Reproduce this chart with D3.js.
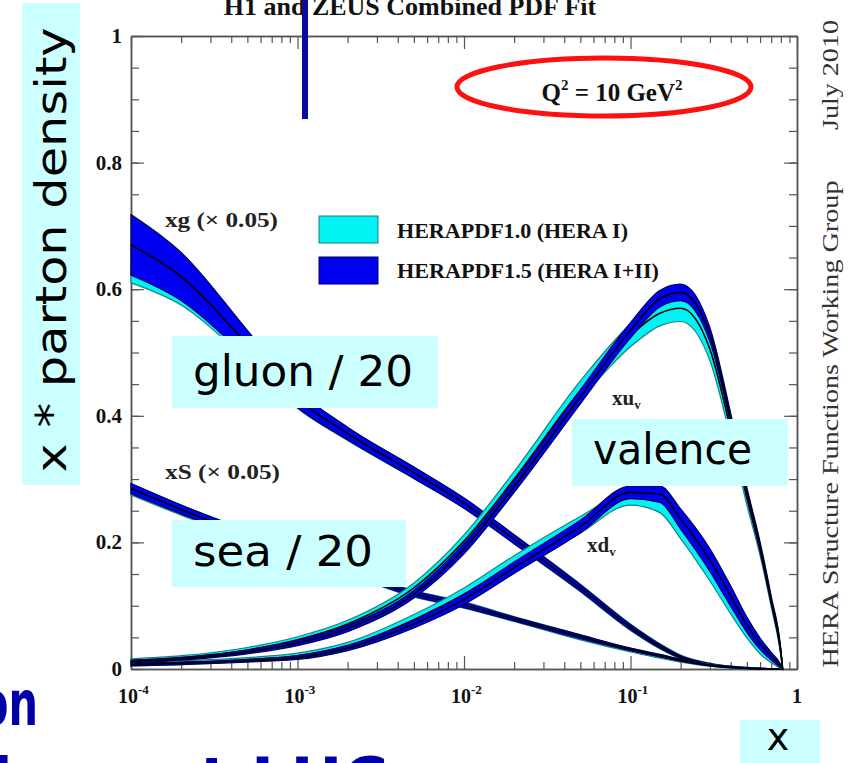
<!DOCTYPE html>
<html><head><meta charset="utf-8">
<script src="https://cdn.jsdelivr.net/npm/d3@7"></script>
<style>
html,body{margin:0;padding:0;background:#fff;overflow:hidden}
svg{display:block}
</style></head><body>
<svg id="chart" width="854" height="763"></svg>
<script>
// Momentum fractions at which the fitted densities are tabulated
const xGrid = [1e-4, 2e-4, 5e-4, 1e-3, 2e-3, 5e-3, 0.01, 0.02, 0.05, 0.1, 0.15, 0.2, 0.3, 0.4, 0.5, 0.6, 0.7, 0.8, 0.82];

// Gluon xg (scaled by 0.05)
const gluon15    = [0.670, 0.620, 0.513, 0.427, 0.372, 0.310, 0.262, 0.205, 0.128, 0.066, 0.036, 0.019, 0.007, 0.003, 0.0015, 0.0006, 0.0002, 0, 0];
const gluon15Err = [0.048, 0.038, 0.022, 0.014, 0.010, 0.009, 0.008, 0.007, 0.005, 0.004, 0.003, 0.002, 0.0015, 0.001, 0.001, 0.0005, 0.0003, 0.0002, 0];
const gluon10    = [0.640, 0.600, 0.505, 0.425, 0.371, 0.310, 0.262, 0.205, 0.128, 0.066, 0.036, 0.019, 0.007, 0.003, 0.0015, 0.0006, 0.0002, 0, 0];
const gluon10Err = [0.030, 0.025, 0.018, 0.013, 0.010, 0.009, 0.008, 0.007, 0.006, 0.005, 0.004, 0.003, 0.002, 0.0015, 0.001, 0.0006, 0.0004, 0.0002, 0];

// Sea xS (scaled by 0.05)
const sea15    = [0.285, 0.252, 0.212, 0.182, 0.154, 0.119, 0.101, 0.079, 0.051, 0.031, 0.021, 0.014, 0.006, 0.003, 0.0012, 0.0005, 0.0002, 0, 0];
const sea15Err = [0.008, 0.007, 0.006, 0.005, 0.004, 0.004, 0.004, 0.003, 0.003, 0.002, 0.002, 0.0015, 0.001, 0.001, 0.0008, 0.0005, 0.0003, 0.0002, 0];
const sea10    = [0.284, 0.251, 0.212, 0.182, 0.154, 0.119, 0.101, 0.079, 0.050, 0.030, 0.020, 0.013, 0.006, 0.003, 0.0012, 0.0005, 0.0002, 0, 0];
const sea10Err = [0.009, 0.008, 0.007, 0.006, 0.005, 0.005, 0.005, 0.004, 0.004, 0.003, 0.003, 0.002, 0.0015, 0.001, 0.001, 0.0006, 0.0004, 0.0002, 0];

// Valence u: xu_v
const xuv15    = [0.012, 0.016, 0.027, 0.041, 0.064, 0.118, 0.190, 0.288, 0.430, 0.535, 0.585, 0.595, 0.528, 0.395, 0.280, 0.195, 0.110, 0.028, 0];
const xuv15Err = [0.002, 0.002, 0.003, 0.004, 0.005, 0.006, 0.008, 0.009, 0.011, 0.012, 0.013, 0.013, 0.011, 0.009, 0.007, 0.006, 0.005, 0.003, 0];
const xuv10    = [0.013, 0.018, 0.030, 0.046, 0.071, 0.128, 0.202, 0.300, 0.440, 0.527, 0.562, 0.570, 0.505, 0.378, 0.270, 0.187, 0.104, 0.025, 0];
const xuv10Err = [0.003, 0.003, 0.004, 0.005, 0.006, 0.008, 0.010, 0.012, 0.015, 0.018, 0.020, 0.021, 0.018, 0.014, 0.011, 0.008, 0.006, 0.004, 0];

// Valence d: xd_v
const xdv15    = [0.007, 0.009, 0.013, 0.018, 0.033, 0.071, 0.110, 0.160, 0.225, 0.279, 0.276, 0.237, 0.172, 0.115, 0.070, 0.040, 0.020, 0.004, 0];
const xdv15Err = [0.002, 0.002, 0.002, 0.003, 0.004, 0.006, 0.008, 0.009, 0.010, 0.010, 0.013, 0.016, 0.018, 0.016, 0.012, 0.009, 0.006, 0.002, 0];
const xdv10    = [0.008, 0.010, 0.015, 0.021, 0.037, 0.078, 0.118, 0.167, 0.228, 0.270, 0.265, 0.228, 0.163, 0.108, 0.065, 0.036, 0.018, 0.004, 0];
const xdv10Err = [0.003, 0.003, 0.003, 0.004, 0.005, 0.008, 0.010, 0.012, 0.013, 0.011, 0.018, 0.022, 0.024, 0.021, 0.016, 0.012, 0.008, 0.003, 0];

// Axis ticks and labels
const yMajor = [0, 0.2, 0.4, 0.6, 0.8, 1];
const yTickLabels = ["0", "0.2", "0.4", "0.6", "0.8", "1"];
const yMinor = d3.range(0, 1.0001, 0.05);
const xMajor = [1e-4, 1e-3, 1e-2, 1e-1, 1];
const xTickExps = ["-4", "-3", "-2", "-1", ""];
const xMinor = [];
[1e-4, 1e-3, 1e-2, 1e-1].forEach(d => { for (let k = 2; k <= 9; k++) xMinor.push(d * k); });

const legendLabels = ["HERAPDF1.0 (HERA I)", "HERAPDF1.5 (HERA I+II)"];
const legendWidths = [231, 262];
const fitColors = ["#00f2f2", "#0000f0"];
const fitEdges = ["#1f7f86", "#00005a"];

const SERIF = "'Liberation Serif','Times New Roman',serif";
const HAND = "'Comic Sans MS','DejaVu Sans',sans-serif";

const svg = d3.select("#chart");
const x = d3.scaleLog().domain([1e-4, 1]).range([131, 797]);
const y = d3.scaleLinear().domain([0, 1]).range([669, 36]);

// Title, partly off the top edge
svg.append("text").attr("x", 410).attr("y", 15).attr("text-anchor", "middle")
  .attr("font-family", SERIF).attr("font-weight", "bold").attr("font-size", 26)
  .attr("fill", "#111").text("H1 and ZEUS Combined PDF Fit");

// Frame and ticks
const axG = svg.append("g");
function styleAxis(g) {
  g.select(".domain").attr("stroke", "#555").attr("stroke-width", 1.5);
  g.selectAll(".tick line").attr("stroke", "#555").attr("stroke-width", 1.2);
  g.selectAll(".tick text").remove();
}
axG.append("g").attr("transform", `translate(0,${y(0)})`)
  .call(d3.axisBottom(x).tickValues(xMajor).tickSize(-13).tickSizeOuter(0)).call(styleAxis);
axG.append("g").attr("transform", `translate(0,${y(0)})`)
  .call(d3.axisBottom(x).tickValues(xMinor).tickSize(-7).tickSizeOuter(0)).call(styleAxis);
axG.append("g").attr("transform", `translate(0,${y(1)})`)
  .call(d3.axisTop(x).tickValues(xMajor).tickSize(-13).tickSizeOuter(0)).call(styleAxis);
axG.append("g").attr("transform", `translate(0,${y(1)})`)
  .call(d3.axisTop(x).tickValues(xMinor).tickSize(-7).tickSizeOuter(0)).call(styleAxis);
axG.append("g").attr("transform", `translate(${x(1e-4)},0)`)
  .call(d3.axisLeft(y).tickValues(yMajor).tickSize(-13).tickSizeOuter(0)).call(styleAxis);
axG.append("g").attr("transform", `translate(${x(1e-4)},0)`)
  .call(d3.axisLeft(y).tickValues(yMinor).tickSize(-8).tickSizeOuter(0)).call(styleAxis);
axG.append("g").attr("transform", `translate(${x(1)},0)`)
  .call(d3.axisRight(y).tickValues(yMajor).tickSize(-13).tickSizeOuter(0)).call(styleAxis);
axG.append("g").attr("transform", `translate(${x(1)},0)`)
  .call(d3.axisRight(y).tickValues(yMinor).tickSize(-8).tickSizeOuter(0)).call(styleAxis);

// Tick labels
svg.append("g").selectAll("text").data(yMajor).join("text")
  .attr("x", x(1e-4) - 9).attr("y", d => y(d) + 7).attr("text-anchor", "end")
  .attr("font-family", SERIF).attr("font-weight", "bold").attr("font-size", 21).attr("fill", "#111")
  .text((d, i) => yTickLabels[i]);
const xl = svg.append("g").selectAll("text").data(xMajor).join("text")
  .attr("x", (d, i) => x(d) - (xTickExps[i] ? 13 : 0)).attr("y", 703)
  .attr("text-anchor", (d, i) => xTickExps[i] ? "start" : "middle")
  .attr("font-family", SERIF).attr("font-weight", "bold").attr("font-size", 20).attr("fill", "#111");
xl.each(function(d, i) {
  const t = d3.select(this);
  if (xTickExps[i]) {
    t.append("tspan").text("10");
    t.append("tspan").attr("font-size", 13).attr("dy", -9).text(xTickExps[i]);
  } else t.text("1");
});

// Bands: HERAPDF1.0 underneath, HERAPDF1.5 on top, each with its central fit line
const pts = (c, e) => xGrid.map((xv, i) => ({x: xv, c: c[i], e: e[i]}));
const area = d3.area().x(d => x(d.x)).y0(d => y(Math.max(0, d.c - d.e))).y1(d => y(d.c + d.e)).curve(d3.curveMonotoneX);
const line = d3.line().x(d => x(d.x)).y(d => y(d.c)).curve(d3.curveMonotoneX);
const curves = [
  [[gluon10, gluon10Err], [gluon15, gluon15Err]],
  [[sea10, sea10Err], [sea15, sea15Err]],
  [[xdv10, xdv10Err], [xdv15, xdv15Err]],
  [[xuv10, xuv10Err], [xuv15, xuv15Err]]
];
const bandG = svg.append("g");
curves.forEach(fits => {
  fits.forEach(([c, e], k) => {
    const p = pts(c, e);
    bandG.append("path").attr("d", area(p)).attr("fill", fitColors[k])
      .attr("stroke", fitEdges[k]).attr("stroke-width", 1.2);
    bandG.append("path").attr("d", line(p)).attr("fill", "none")
      .attr("stroke", "#000").attr("stroke-width", 1.6);
  });
});

// Legend
const leg = svg.append("g");
legendLabels.forEach((lab, i) => {
  leg.append("rect").attr("x", 319).attr("y", 216 + i * 41).attr("width", 59).attr("height", 27)
    .attr("fill", fitColors[i]).attr("stroke", fitEdges[i]).attr("stroke-width", 1);
  leg.append("text").attr("x", 397).attr("y", 238 + i * 40)
    .attr("font-family", SERIF).attr("font-weight", "bold").attr("font-size", 21).attr("fill", "#111")
    .attr("textLength", legendWidths[i]).attr("lengthAdjust", "spacingAndGlyphs")
    .text(lab);
});

// Curve labels
const lab = svg.append("g").attr("font-family", SERIF).attr("font-weight", "bold").attr("fill", "#222");
lab.append("text").attr("x", 165).attr("y", 227).attr("font-size", 22)
  .attr("textLength", 113).attr("lengthAdjust", "spacingAndGlyphs").text("xg (\u00d7 0.05)");
lab.append("text").attr("x", 165).attr("y", 479).attr("font-size", 22)
  .attr("textLength", 115).attr("lengthAdjust", "spacingAndGlyphs").text("xS (\u00d7 0.05)");
const tu = lab.append("text").attr("x", 612).attr("y", 405).attr("font-size", 21);
tu.append("tspan").text("xu"); tu.append("tspan").attr("font-size", 13).attr("dy", 4).text("v");
const td = lab.append("text").attr("x", 587).attr("y", 552).attr("font-size", 21);
td.append("tspan").text("xd"); td.append("tspan").attr("font-size", 13).attr("dy", 4).text("v");

// Scale note
const q = svg.append("text").attr("x", 612).attr("y", 101).attr("text-anchor", "middle")
  .attr("font-family", SERIF).attr("font-weight", "bold").attr("font-size", 25).attr("fill", "#111");
q.append("tspan").text("Q");
q.append("tspan").attr("font-size", 15).attr("dy", -11).text("2");
q.append("tspan").attr("dy", 11).text(" = 10 GeV");
q.append("tspan").attr("font-size", 15).attr("dy", -11).text("2");

// Side credits
svg.append("text").attr("transform", "translate(838,75) rotate(-90)").attr("text-anchor", "middle")
  .attr("font-family", SERIF).attr("font-size", 24).attr("fill", "#333")
  .attr("textLength", 110).attr("lengthAdjust", "spacingAndGlyphs").text("July 2010");
svg.append("text").attr("transform", "translate(838,424) rotate(-90)").attr("text-anchor", "middle")
  .attr("font-family", SERIF).attr("font-size", 24).attr("fill", "#333")
  .attr("textLength", 487).attr("lengthAdjust", "spacingAndGlyphs")
  .text("HERA Structure Functions Working Group");

// Annotations laid over the figure
const ov = svg.append("g");
ov.append("line").attr("x1", 305).attr("x2", 305).attr("y1", 0).attr("y2", 119)
  .attr("stroke", "#0a0a9c").attr("stroke-width", 6);
ov.append("ellipse").attr("cx", 604).attr("cy", 87).attr("rx", 147).attr("ry", 29)
  .attr("fill", "none").attr("stroke", "#ff1010").attr("stroke-width", 5);

const boxes = [
  {x: 22, y: 3, w: 58, h: 482},
  {x: 172, y: 336, w: 266, h: 72},
  {x: 172, y: 520, w: 234, h: 67},
  {x: 572, y: 419, w: 216, h: 67},
  {x: 740, y: 720, w: 80, h: 50}
];
ov.selectAll("rect.note").data(boxes).join("rect").attr("class", "note")
  .attr("x", d => d.x).attr("y", d => d.y).attr("width", d => d.w).attr("height", d => d.h)
  .attr("fill", "#ccffff");

const hand = ov.append("g").attr("font-family", HAND).attr("fill", "#000");
hand.append("text").attr("transform", "translate(66,250) rotate(-90)").attr("text-anchor", "middle")
  .attr("font-size", 42).attr("textLength", 445).attr("lengthAdjust", "spacingAndGlyphs")
  .text("x * parton density");
hand.append("text").attr("x", 193).attr("y", 386).attr("font-size", 42)
  .attr("textLength", 220).attr("lengthAdjust", "spacingAndGlyphs").text("gluon / 20");
hand.append("text").attr("x", 193).attr("y", 566).attr("font-size", 42)
  .attr("textLength", 180).attr("lengthAdjust", "spacingAndGlyphs").text("sea / 20");
hand.append("text").attr("x", 593).attr("y", 464).attr("font-size", 42)
  .attr("textLength", 159).attr("lengthAdjust", "spacingAndGlyphs").text("valence");
hand.append("text").attr("x", 778).attr("y", 750).attr("text-anchor", "middle").attr("font-size", 38).text("x");

// Slide headline fragments at the lower left
const head = ov.append("g").attr("font-family", HAND).attr("font-weight", "bold").attr("fill", "#0000a8");
head.append("text").attr("x", -20).attr("y", 725).attr("font-size", 62)
  .attr("textLength", 58).attr("lengthAdjust", "spacingAndGlyphs").text("on");
head.append("text").attr("x", 388).attr("y", 802).attr("text-anchor", "end").attr("font-size", 62).text("ictions at LHC");
</script>
</body></html>
